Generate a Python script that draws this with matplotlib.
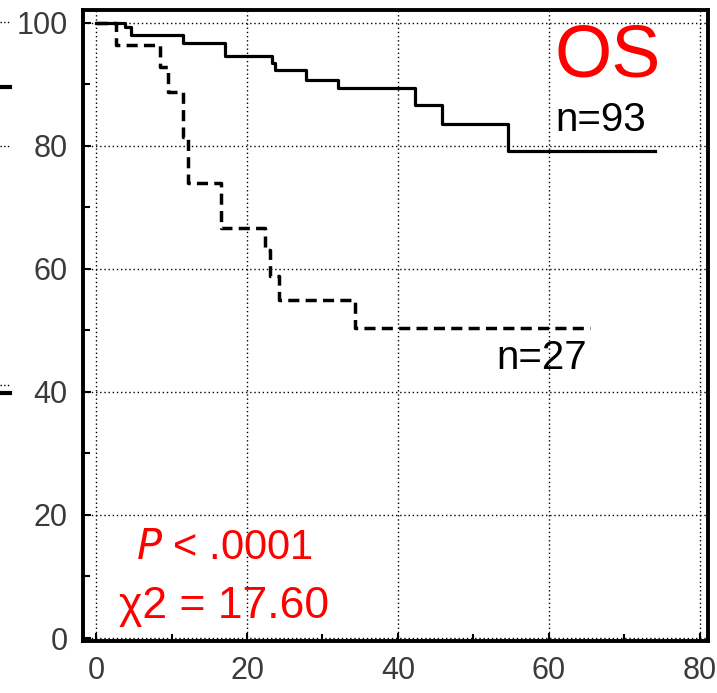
"""
Kaplan-Meier OS curves, n=93 vs n=27
"""

import numpy as np
import matplotlib
matplotlib.use("Agg")
import matplotlib.pyplot as plt
from matplotlib.lines import Line2D

# survival steps (months, %)
t_93 = [0, 3.8, 4.7, 11.5, 17.1, 23.3, 23.7, 27.8, 32.1, 42.3, 45.8, 54.6, 74.0]
s_93 = [100, 99.3, 98.0, 96.7, 94.6, 93.4, 92.4, 90.7, 89.4, 86.7, 83.6, 79.1, 79.1]

t_27 = [0, 2.7, 8.5, 9.5, 11.5, 12.2, 16.6, 22.4, 23.0, 24.2, 34.3, 65.4]
s_27 = [100, 96.4, 92.8, 88.8, 81.5, 74.0, 66.7, 63.1, 58.8, 55.0, 50.4, 50.4]

x_ticks = [0, 20, 40, 60, 80]
y_ticks = [0, 20, 40, 60, 80, 100]

plt.rcParams['font.family'] = ['Liberation Sans', 'DejaVu Sans']

fig = plt.figure(figsize=(7.17, 6.93), dpi=100)
ax = fig.add_axes([0.1158, 0.075, 0.8716, 0.9106])

ax.step(t_93, s_93, where='post', color='black', lw=2.3)
ax.step(t_27, s_27, where='post', color='black', lw=2.5, linestyle=(0, (3.2, 1.8)))

ax.set_xlim(-1.72, 81.06)
ax.set_ylim(-0.49, 102.1)
ax.set_xticks(x_ticks)
ax.set_yticks(y_ticks)
ax.set_xticks([10, 30, 50, 70], minor=True)
ax.set_yticks([10, 30, 50, 70, 90], minor=True)
ax.grid(True, which='major', color='black', linestyle=(0, (1, 2)), lw=1.0)

ax.tick_params(which='major', direction='in', length=6, width=1.5, pad=11,
               labelsize=22, colors='black')
ax.tick_params(which='minor', direction='in', length=5, width=1.5)
for tl in ax.get_xticklabels() + ax.get_yticklabels():
    tl.set_color('#3a3a3a')
for sp in ax.spines.values():
    sp.set_linewidth(2.8)

# annotations
ax.text(67.8, 94.5, 'OS', color='red', fontsize=53, ha='center', va='center')
ax.text(66.8, 84.2, 'n=93', color='black', fontsize=29, ha='center', va='center')
ax.text(59.0, 45.5, 'n=27', color='black', fontsize=29, ha='center', va='center')
ax.text(17.0, 14.6, r'$\it{P}$ < .0001', color='red', fontsize=30, ha='center', va='center')
ax.text(16.9, 5.2, 'χ2 = 17.60', color='red', fontsize=32, ha='center', va='center')

# cut-off fragments of the neighbouring panel at the left edge
H = 693.0
for yp, style, w in [(22, ':', 1.0), (87, '-', 3.0), (146, ':', 1.0),
                     (385, ':', 1.0), (393, '-', 3.0)]:
    fig.add_artist(Line2D([0, 10 / 717], [1 - yp / H, 1 - yp / H],
                          color='black', linestyle=style, lw=w))

fig.savefig('out.png', dpi=100)
